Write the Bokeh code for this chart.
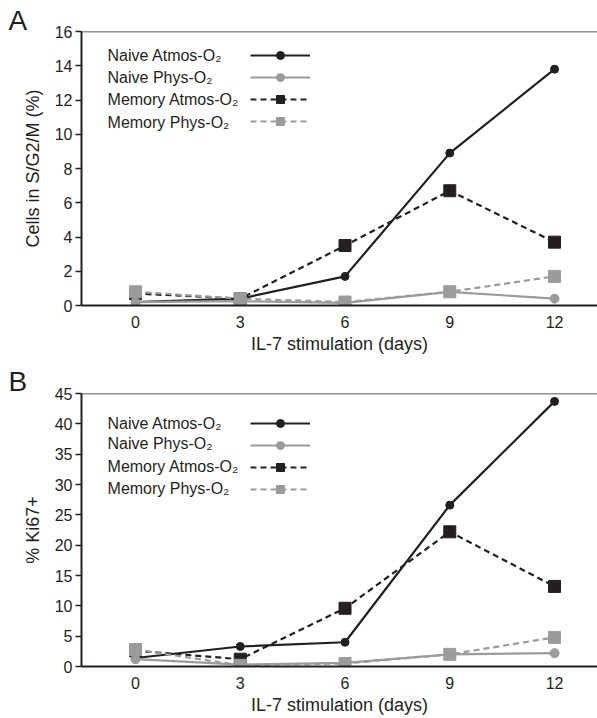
import math
from bokeh.plotting import figure
from bokeh.models import Span, Label, Legend, LegendItem, FixedTicker, Range1d
from bokeh.layouts import column
from bokeh.embed import file_html
from bokeh.resources import INLINE

# ---------------- data ----------------
days = [0, 3, 6, 9, 12]
x_ticks = [0, 3, 6, 9, 12]

series_names = ["Naive Atmos-O\u2082", "Naive Phys-O\u2082",
                "Memory Atmos-O\u2082", "Memory Phys-O\u2082"]

# Panel A: Cells in S/G2/M (%)
naive_atmos_A = [0.2, 0.4, 1.7, 8.9, 13.8]
naive_phys_A = [0.2, 0.25, 0.15, 0.8, 0.4]
memory_atmos_A = [0.7, 0.4, 3.5, 6.7, 3.7]
memory_phys_A = [0.8, 0.4, 0.2, 0.8, 1.7]
y_ticks_A = [0, 2, 4, 6, 8, 10, 12, 14, 16]

# Panel B: % Ki67+
naive_atmos_B = [1.4, 3.3, 4.0, 26.6, 43.7]
naive_phys_B = [1.2, 0.3, 0.6, 2.0, 2.2]
memory_atmos_B = [2.6, 1.2, 9.6, 22.2, 13.2]
memory_phys_B = [2.8, 0.2, 0.5, 2.0, 4.8]
y_ticks_B = [0, 5, 10, 15, 20, 25, 30, 35, 40, 45]

# ---------------- style ----------------
FONT = "Liberation Sans"
INK = "#231f20"
GREY = "#9b9b9b"
W = 597
X0, X1 = -1.546, 13.23


def make_panel(letter, vals, yticks, ylabel, height, btop, bbot,
               leg_y, leg_rows, letter_standoff):
    ymax = yticks[-1]
    p = figure(width=W, height=height, output_backend="svg",
               toolbar_location=None,
               x_range=Range1d(X0, X1), y_range=Range1d(0, ymax),
               min_border_left=81, min_border_right=0,
               min_border_top=btop, min_border_bottom=bbot)
    p.outline_line_color = None
    p.grid.visible = False
    p.background_fill_color = "white"

    # panel letter as title
    p.title.text = letter
    p.title.text_font = FONT
    p.title.text_font_size = "28px"
    p.title.text_font_style = "normal"
    p.title.text_color = INK
    p.title.align = "left"
    p.title.offset = -73
    p.title.standoff = letter_standoff

    # axes
    p.xaxis.ticker = FixedTicker(ticks=x_ticks)
    p.yaxis.ticker = FixedTicker(ticks=yticks)
    for ax in (p.xaxis, p.yaxis):
        ax.axis_line_width = 2
        ax.axis_line_color = INK
        ax.major_tick_line_color = INK
        ax.major_tick_line_width = 1.5
        ax.minor_tick_line_color = None
        ax.major_label_text_font = FONT
        ax.major_label_text_font_size = "16px"
        ax.major_label_text_color = INK
        ax.axis_label_text_font = FONT
        ax.axis_label_text_font_size = "18px"
        ax.axis_label_text_font_style = "normal"
        ax.axis_label_text_color = INK
    p.xaxis.major_tick_out = 0
    p.xaxis.major_tick_in = 0
    p.xaxis.major_label_standoff = 10
    p.xaxis.axis_label = "IL-7 stimulation (days)"
    p.xaxis.axis_label_standoff = 3
    p.yaxis.major_tick_out = 6
    p.yaxis.major_tick_in = 0
    p.yaxis.major_label_standoff = 3
    p.yaxis.axis_label = ylabel
    p.yaxis.axis_label_standoff = 9

    # top border line
    p.add_layout(Span(location=ymax, dimension="width",
                      line_color=INK, line_width=1.5))

    na, nph, ma, mph = vals
    # draw order: black first, grey on top
    r_na_l = p.line(days, na, line_color=INK, line_width=2.2)
    r_na_s = p.scatter(days, na, marker="circle", size=8,
                       fill_color=INK, line_color=INK)
    r_ma_l = p.line(days, ma, line_color=INK, line_width=2.2, line_dash="6 4")
    r_ma_s = p.scatter(days, ma, marker="square", size=12,
                       fill_color=INK, line_color=INK)
    r_np_l = p.line(days, nph, line_color=GREY, line_width=2.2)
    r_np_s = p.scatter(days, nph, marker="circle", size=9,
                       fill_color=GREY, line_color=GREY)
    r_mp_l = p.line(days, mph, line_color=GREY, line_width=2.2, line_dash="6 4")
    r_mp_s = p.scatter(days, mph, marker="square", size=12,
                       fill_color=GREY, line_color=GREY)

    legend = Legend(items=[
        LegendItem(label=" ", renderers=[r_na_l, r_na_s]),
        LegendItem(label=" ", renderers=[r_np_l, r_np_s]),
        LegendItem(label=" ", renderers=[r_ma_l, r_ma_s]),
        LegendItem(label=" ", renderers=[r_mp_l, r_mp_s]),
    ], location=(169, leg_y), orientation="vertical",
        glyph_width=60, glyph_height=20, spacing=2, padding=0, margin=0,
        border_line_color=None, background_fill_alpha=0,
        label_text_font_size="1px", label_width=0, label_standoff=0)
    p.add_layout(legend)

    for name, yv in zip(series_names, leg_rows):
        p.add_layout(Label(x=-0.80, y=yv, text=name, text_font=FONT,
                           text_font_size="16px", text_color=INK,
                           text_baseline="middle", text_align="left"))
    return p


pA = make_panel("A", (naive_atmos_A, naive_phys_A, memory_atmos_A, memory_phys_A),
                y_ticks_A, "Cells in S/G2/M (%)", 360, 31, 55,
                174, [14.6, 13.31, 12.03, 10.69], -9)
pB = make_panel("B", (naive_atmos_B, naive_phys_B, memory_atmos_B, memory_phys_B),
                y_ticks_B, "% Ki67+", 358, 33, 52,
                167, [40.05, 36.75, 32.97, 29.34], -7)

layout = column(pA, pB, spacing=0)
open("out.html", "w").write(file_html(layout, INLINE))
